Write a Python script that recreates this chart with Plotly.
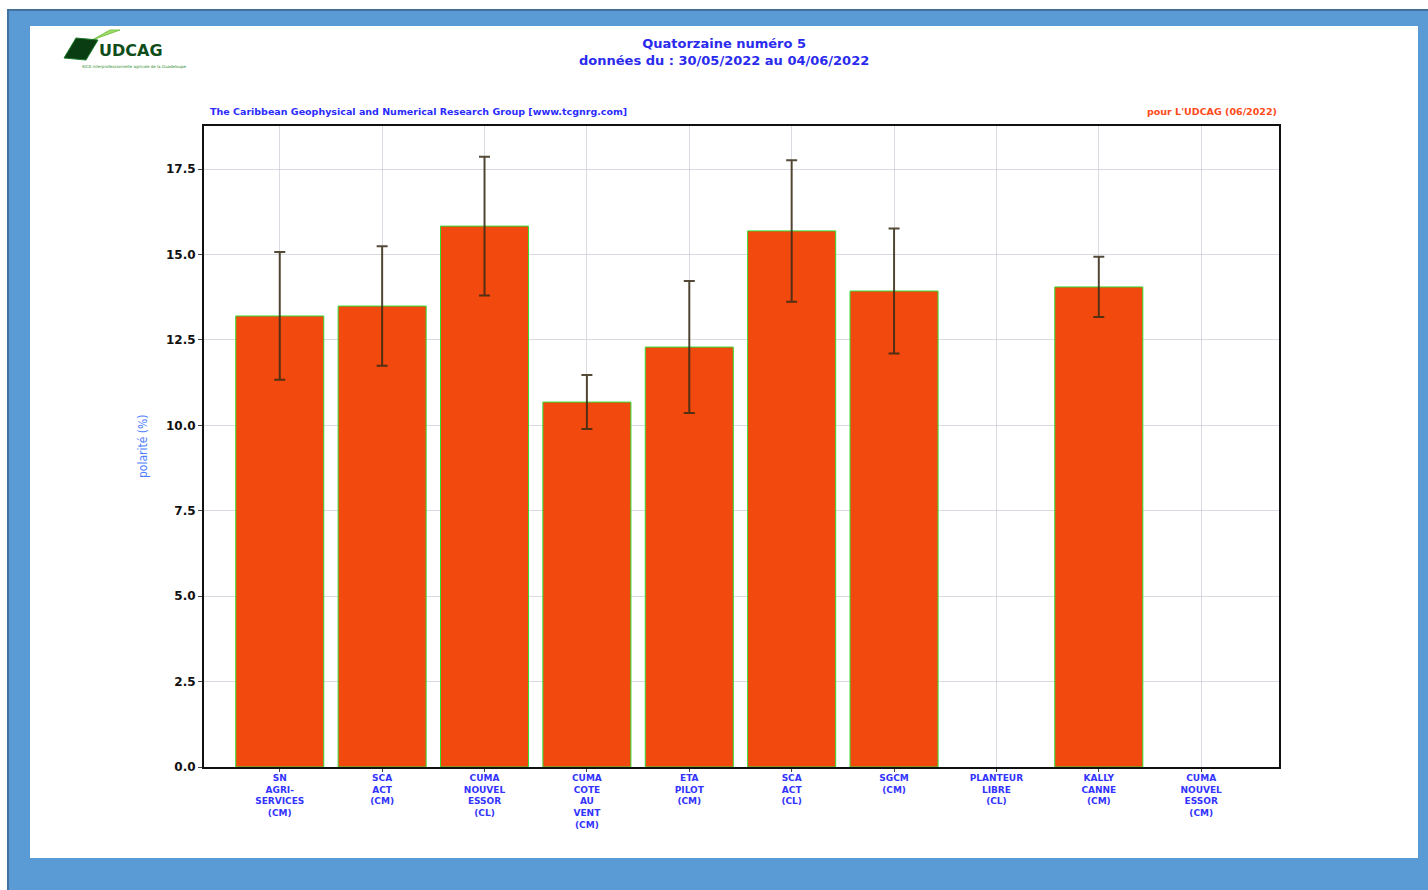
import plotly.graph_objects as go

# données de la quatorzaine
sites = ["SN<br>AGRI-<br>SERVICES<br>(CM)", "SCA<br>ACT<br>(CM)", "CUMA<br>NOUVEL<br>ESSOR<br>(CL)",
         "CUMA<br>COTE<br>AU<br>VENT<br>(CM)", "ETA<br>PILOT<br>(CM)", "SCA<br>ACT<br>(CL)",
         "SGCM<br>(CM)", "PLANTEUR<br>LIBRE<br>(CL)", "KALLY<br>CANNE<br>(CM)", "CUMA<br>NOUVEL<br>ESSOR<br>(CM)"]
polarite = [13.20, 13.49, 15.83, 10.68, 12.29, 15.69, 13.93, None, 14.05, None]
ecart = [1.87, 1.75, 2.03, 0.79, 1.93, 2.07, 1.83, None, 0.88, None]
y_ticks = [0, 2.5, 5, 7.5, 10, 12.5, 15, 17.5]
titre = "Quatorzaine numéro 5<br>données du : 30/05/2022 au 04/06/2022"

W, H = 1428, 890
L, R, T, B = 204, 1279, 126, 767


def px_x(x):
    return (x - L) / (R - L)


def px_y(y):
    return (B - y) / (B - T)


fig = go.Figure()
fig.add_trace(go.Bar(
    x=list(range(len(sites))), y=polarite, width=0.86,
    marker=dict(color="#F2490E", line=dict(color="#33dd33", width=1)),
    error_y=dict(type="data", array=ecart, color="rgba(55,42,20,0.85)", thickness=2, width=5.5),
))

# fond bleu + cadre blanc
fig.add_shape(type="rect", xref="paper", yref="paper", layer="below",
              x0=px_x(8), x1=px_x(1430), y0=px_y(892), y1=px_y(10),
              fillcolor="#5B9BD5", line=dict(color="#41719C", width=2))
fig.add_shape(type="rect", xref="paper", yref="paper", layer="below",
              x0=px_x(30), x1=px_x(1418), y0=px_y(858), y1=px_y(26),
              fillcolor="white", line=dict(width=0))

# logo UDCAG (approximation)
fig.add_shape(type="path", xref="paper", yref="paper", layer="above",
              path="M {0} {1} L {2} {3} L {4} {5} Z".format(
                  px_x(92), px_y(40), px_x(110), px_y(30), px_x(120), px_y(30)),
              fillcolor="#9fdc6a", line=dict(color="#7cc44a", width=1))
fig.add_shape(type="path", xref="paper", yref="paper", layer="above",
              path="M {0} {1} L {2} {3} L {4} {5} L {6} {7} Z".format(
                  px_x(64), px_y(58), px_x(76), px_y(38), px_x(98), px_y(40), px_x(86), px_y(60)),
              fillcolor="#0b3d12", line=dict(color="#1d7a2a", width=1))
fig.add_annotation(x=px_x(97), y=px_y(51), xref="paper", yref="paper", text="<b>UDCAG</b>",
                   showarrow=False, xanchor="left", yanchor="middle",
                   font=dict(family="DejaVu Sans", size=16, color="#0f4d1a"))
fig.add_annotation(x=px_x(80), y=px_y(66), xref="paper", yref="paper",
                   text="SICA interprofessionnelle agricole de la Guadeloupe",
                   showarrow=False, xanchor="left", yanchor="middle",
                   font=dict(family="DejaVu Sans", size=4, color="#2e8b2e"))

fig.add_annotation(x=px_x(724), y=px_y(52), xref="paper", yref="paper",
                   text="<b>" + titre + "</b>", showarrow=False,
                   xanchor="center", yanchor="middle",
                   font=dict(family="DejaVu Sans", size=13, color="#2b2bee"))

fig.add_annotation(x=px_x(208), y=px_y(111), xref="paper", yref="paper",
                   text="<b>The Caribbean Geophysical and Numerical Research Group [www.tcgnrg.com]</b>",
                   showarrow=False, xanchor="left", yanchor="middle",
                   font=dict(family="DejaVu Sans", size=9.5, color="#2b2bff"))
fig.add_annotation(x=px_x(1279), y=px_y(111), xref="paper", yref="paper",
                   text="<b>pour L'UDCAG (06/2022)</b>",
                   showarrow=False, xanchor="right", yanchor="middle",
                   font=dict(family="DejaVu Sans", size=9.5, color="#ff4a1a"))

fig.add_annotation(x=px_x(143), y=px_y(446), xref="paper", yref="paper",
                   text="polarité (%)", textangle=-90, showarrow=False,
                   xanchor="center", yanchor="middle",
                   font=dict(family="DejaVu Sans Condensed, Liberation Sans Narrow, DejaVu Sans",
                             size=12, color="#4d7dff"))

fig.update_layout(
    width=W, height=H,
    margin=dict(l=L, r=W - R, t=T, b=H - B),
    paper_bgcolor="white", plot_bgcolor="white",
    showlegend=False,
    font=dict(family="DejaVu Sans"),
)
fig.update_xaxes(
    range=[-0.74, 9.76], tickvals=list(range(len(sites))),
    ticktext=["<b>" + s + "</b>" for s in sites],
    tickfont=dict(family="DejaVu Sans", size=9, color="#3333ff"),
    ticklabelstandoff=-2,
    showgrid=True, gridcolor="rgba(205,205,218,0.75)", gridwidth=1,
    showline=True, linecolor="#111", linewidth=2, mirror=True,
    ticks="outside", ticklen=3, tickcolor="#444", layer="above traces",
    zeroline=False,
)
fig.update_yaxes(
    range=[0, 18.76], tickvals=y_ticks, ticktext=["<b>%.1f</b>" % v for v in y_ticks],
    showgrid=True, gridcolor="rgba(205,205,218,0.75)", gridwidth=1,
    showline=True, linecolor="#111", linewidth=2, mirror=True,
    ticks="outside", ticklen=4, tickcolor="#444", layer="above traces",
    tickfont=dict(family="DejaVu Sans", size=12, color="#111"),
    zeroline=False,
)

fig.write_html("out.html", config={"displayModeBar": False},
               post_script="document.body.style.margin='0';")
